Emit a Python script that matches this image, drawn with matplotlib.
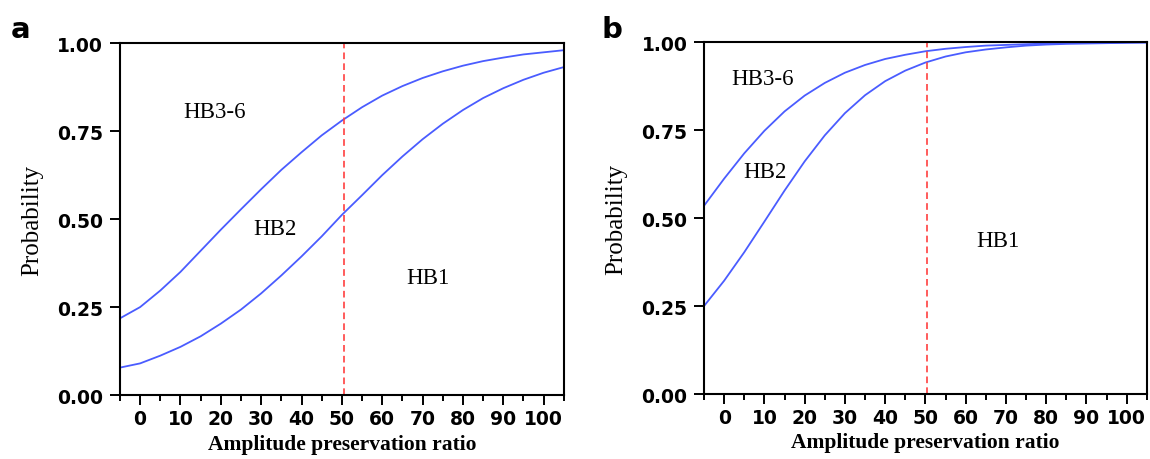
import numpy as np
import matplotlib
matplotlib.use("Agg")
import matplotlib.pyplot as plt
from matplotlib.ticker import MultipleLocator

# Amplitude preservation ratio (sample points)
ratio = [-5, 0, 5, 10, 15, 20, 25, 30, 35, 40, 45, 50,
         55, 60, 65, 70, 75, 80, 85, 90, 95, 100, 105]

# panel a: cumulative probability boundaries
a_hb36 = [0.218, 0.250, 0.297, 0.350, 0.410, 0.470, 0.528, 0.585, 0.640, 0.690, 0.738, 0.780,
          0.818, 0.851, 0.878, 0.901, 0.920, 0.936, 0.949, 0.959, 0.968, 0.974, 0.980]
a_hb2 = [0.078, 0.090, 0.112, 0.137, 0.167, 0.203, 0.243, 0.289, 0.340, 0.394, 0.451, 0.512,
         0.568, 0.625, 0.678, 0.727, 0.771, 0.810, 0.844, 0.872, 0.896, 0.916, 0.932]

# panel b
b_hb36 = [0.535, 0.612, 0.684, 0.748, 0.803, 0.848, 0.884, 0.913, 0.935, 0.952, 0.964, 0.974,
          0.981, 0.986, 0.990, 0.992, 0.994, 0.996, 0.997, 0.998, 0.998, 0.999, 0.999]
b_hb2 = [0.250, 0.322, 0.403, 0.490, 0.578, 0.661, 0.735, 0.798, 0.849, 0.889, 0.919, 0.942,
         0.959, 0.971, 0.979, 0.985, 0.990, 0.993, 0.995, 0.996, 0.997, 0.998, 0.999]

cutoff = 50.5

# region labels: (text, x, y)
a_labels = [("HB3-6", 18.4, 0.807), ("HB2", 33.5, 0.472), ("HB1", 71.2, 0.335)]
b_labels = [("HB3-6", 9.6, 0.896), ("HB2", 10.1, 0.632), ("HB1", 67.9, 0.437)]

xticks = [0, 10, 20, 30, 40, 50, 60, 70, 80, 90, 100]
yticks = [0.0, 0.25, 0.5, 0.75, 1.0]
ytick_labels = ["0.00", "0.25", "0.50", "0.75", "1.00"]

blue = "#4a5cff"
red = "#ff4040"
serif = ["Liberation Serif", "DejaVu Serif"]

fig = plt.figure(figsize=(11.5, 4.6), dpi=100)
ax_a = fig.add_axes([0.1043, 0.139, 0.386, 0.765])
ax_b = fig.add_axes([0.6122, 0.1413, 0.385, 0.765])

def draw_panel(ax, hb36, hb2, labels, tag, tag_x):
    ax.plot(ratio, hb36, color=blue, lw=1.3)
    ax.plot(ratio, hb2, color=blue, lw=1.3)
    ax.axvline(cutoff, color=red, lw=1.2, ls=(0, (4, 2.5)))
    for txt, x, y in labels:
        ax.text(x, y, txt, family=serif, fontsize=16.5, ha="center", va="center")

    ax.set_xlim(-5, 105)
    ax.set_ylim(0, 1)
    ax.set_xticks(xticks)
    ax.xaxis.set_minor_locator(MultipleLocator(5))
    ax.set_yticks(yticks)
    ax.set_yticklabels(ytick_labels)
    ax.tick_params(axis="both", which="major", direction="out", length=7, width=1.4,
                   labelsize=13.5, pad=3)
    ax.tick_params(axis="y", which="major", pad=5)
    ax.tick_params(axis="x", which="minor", direction="out", length=4, width=1.4)
    for lab in ax.get_xticklabels() + ax.get_yticklabels():
        lab.set_fontweight("bold")
    for sp in ax.spines.values():
        sp.set_linewidth(1.5)

    ax.set_xlabel("Amplitude preservation ratio", family=serif, fontsize=15.5,
                  fontweight="bold", labelpad=4)
    ax.set_ylabel("Probability", family=serif, fontsize=18, labelpad=10)
    fig.text(tag_x, 0.935, tag, fontsize=21, fontweight="bold", ha="left", va="center")

draw_panel(ax_a, a_hb36, a_hb2, a_labels, "a", 0.009)
draw_panel(ax_b, b_hb36, b_hb2, b_labels, "b", 0.523)

fig.savefig("out.png", dpi=100)
